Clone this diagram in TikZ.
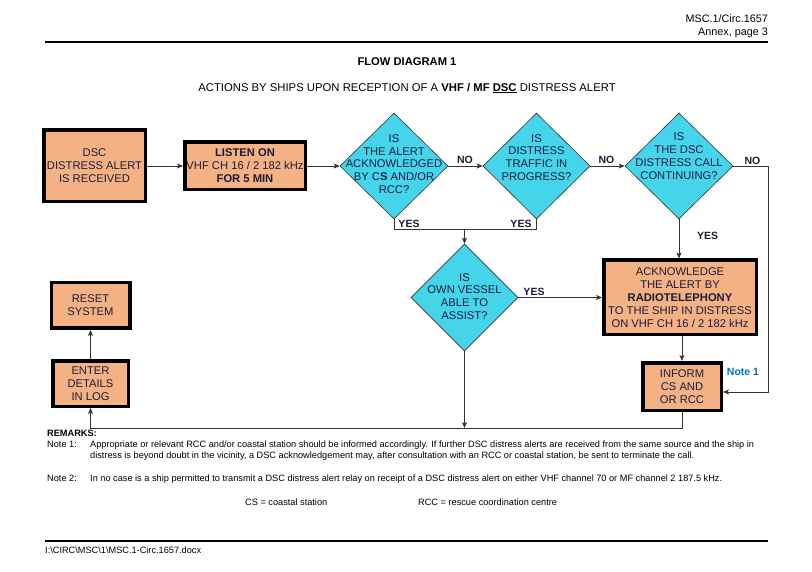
\documentclass[tikz,border=0pt]{standalone}
\usepackage{fontspec}
\setmainfont{Liberation Sans}
\usetikzlibrary{shapes.geometric,arrows.meta}
\definecolor{salmon}{HTML}{F4B183}
\definecolor{cyanfill}{HTML}{44D5EA}
\definecolor{noteblue}{HTML}{0070C0}
\definecolor{txt}{HTML}{1C1C3A}
\definecolor{linec}{HTML}{333333}
\tikzset{
  box/.style={draw=black, line width=3.5pt, fill=salmon, inner sep=0pt, align=center, text=txt,
    font=\fontsize{11.2}{13}\selectfont},
  dia/.style={diamond, draw=linec, line width=0.6pt, fill=cyanfill, inner sep=0pt},
  diatext/.style={align=center, text=txt, inner sep=0pt, font=\fontsize{11.2}{12.8}\selectfont},
  lab/.style={inner sep=0pt, text=txt, font=\bfseries\fontsize{10.5}{12}\selectfont},
  arr/.style={draw=linec, line width=0.8pt, -{Stealth[length=6pt,width=5pt,inset=1.5pt]}},
  ln/.style={draw=linec, line width=0.8pt},
  small/.style={inner sep=0pt, anchor=base west, font=\fontsize{9.2}{11}\selectfont},
  head/.style={inner sep=0pt, font=\fontsize{10.8}{12}\selectfont}
}
\begin{document}
\begin{tikzpicture}[x=1pt,y=-1pt]
\useasboundingbox[fill=white] (0,0) rectangle (812,572);
% header
\node[head, anchor=east] (h1) at (768,19) {MSC.1/Circ.1657};
\node[head, anchor=east] (h2) at (768,33) {Annex, page 3};
\draw[line width=1.2pt] (45,42) -- (768,42);
\node[head, font=\bfseries\fontsize{11.2}{12}\selectfont] (t1) at (407,62) {FLOW DIAGRAM 1};
\node[head, font=\fontsize{11.3}{12}\selectfont] (t2) at (407,88) {ACTIONS BY SHIPS UPON RECEPTION OF A \textbf{VHF / MF \underline{DSC}} DISTRESS ALERT};
% boxes
\node[box, minimum width=101.5pt, minimum height=71.5pt] (b1) at (94.5,166) {DSC\\DISTRESS ALERT\\IS RECEIVED};
\node[box, minimum width=120.5pt, minimum height=47.5pt] (b2) at (245,166) {\textbf{LISTEN ON}\\VHF CH 16 / 2 182 kHz\\\textbf{FOR 5 MIN}};
\node[box, minimum width=152.5pt, minimum height=74.5pt] (ack) at (680,297.5) {ACKNOWLEDGE\\THE ALERT BY\\\textbf{RADIOTELEPHONY}\\TO THE SHIP IN DISTRESS\\ON VHF CH 16 / 2 182 kHz};
\node[box, minimum width=78.5pt, minimum height=47.5pt] (inf) at (682,386.5) {INFORM\\CS AND\\OR RCC};
\node[box, minimum width=75.5pt, minimum height=45.5pt] (ent) at (90.5,383.5) {ENTER\\DETAILS\\IN LOG};
\node[box, minimum width=78.5pt, minimum height=45.5pt] (rst) at (90.5,305.5) {RESET\\SYSTEM};
% diamonds
\node[dia, minimum width=108pt, minimum height=106pt] (d1) at (394,166) {};
\node[dia, minimum width=107pt, minimum height=106pt] (d2) at (536.5,166) {};
\node[dia, minimum width=108pt, minimum height=106pt] (d3) at (679,166) {};
\node[dia, minimum width=107pt, minimum height=107pt] (d4) at (464.5,297.5) {};
\node[diatext] (d1t) at (394,164) {IS\\THE ALERT\\ACKNOWLEDGED\\BY C\textbf{S} AND/OR\\RCC?};
\node[diatext] (d2t) at (536.5,157.5) {IS\\DISTRESS\\TRAFFIC IN\\PROGRESS?};
\node[diatext] (d3t) at (679,156) {IS\\THE DSC\\DISTRESS CALL\\CONTINUING?};
\node[diatext] (d4t) at (464.5,296.5) {IS\\OWN VESSEL\\ABLE TO\\ASSIST?};
% connectors
\draw[arr] (b1.east) -- (b2.west);
\draw[arr] (b2.east) -- (d1.west);
\draw[arr] (d1.east) -- (d2.west);
\draw[arr] (d2.east) -- (d3.west);
\coordinate (r1) at (768,166);
\coordinate (r2) at (768,392);
\draw[arr] (d3.east) -- (r1) -- (r2) -- (r2 -| inf.east);
\coordinate (jn) at (464.5,229);
\draw[ln] (d1.south) -- ++(0,10) -| (d2.south);
\draw[arr] (jn) -- (d4.north);
\draw[arr] (d4.east) -- (ack.west);
\draw[arr] (d3.south) -- (d3.south |- ack.north);
\draw[arr] (inf.north |- ack.south) -- (inf.north);
\coordinate (bd) at (464.5,428);
\draw[arr] (d4.south) -- (bd);
\coordinate (bl) at (90.5,428);
\draw[arr] (inf.south) |- (bl) -- (ent.south);
\draw[arr] (ent.north) -- (rst.south);
% labels
\node[lab] (no1) at (465,160) {NO};
\node[lab] (no2) at (606.5,160) {NO};
\node[lab] (no3) at (752.5,161) {NO};
\node[lab] (y1) at (409,223.5) {YES};
\node[lab] (y2) at (521,223.5) {YES};
\node[lab] (y3) at (707.5,236) {YES};
\node[lab] (y4) at (534,292) {YES};
\node[lab, text=noteblue] (n1) at (743,372) {Note 1};
% remarks
\node[small, font=\bfseries\fontsize{9.2}{11}\selectfont] (rm) at (47,436.5) {REMARKS:};
\node[small] (n1l) at (47,447) {Note 1:};
\node[small] (n1a) at (90,447) {Appropriate or relevant RCC and/or coastal station should be informed accordingly. If further DSC distress alerts are received from the same source and the ship in};
\node[small] (n1b) at (90,458) {distress is beyond doubt in the vicinity, a DSC acknowledgement may, after consultation with an RCC or coastal station, be sent to terminate the call.};
\node[small] (n2l) at (47,481.5) {Note 2:};
\node[small] (n2a) at (90,481.5) {In no case is a ship permitted to transmit a DSC distress alert relay on receipt of a DSC distress alert on either VHF channel 70 or MF channel 2 187.5 kHz.};
\node[small] (cs) at (245,505.5) {CS = coastal station};
\node[small] (rcc) at (418,505.5) {RCC = rescue coordination centre};
\draw[line width=1.2pt] (45,541) -- (768,541);
\node[small] (ft) at (45,553.5) {I:\textbackslash CIRC\textbackslash MSC\textbackslash 1\textbackslash MSC.1-Circ.1657.docx};
\end{tikzpicture}
\end{document}
